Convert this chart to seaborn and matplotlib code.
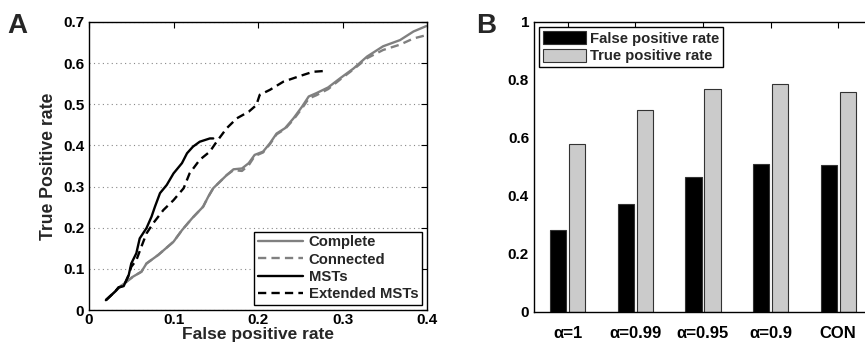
import matplotlib
matplotlib.use("Agg")
import matplotlib.pyplot as plt
import seaborn as sns
import pandas as pd
import numpy as np

# ---- Panel A: ROC-like curves ----
complete_x = [0.020, 0.037, 0.052, 0.062, 0.068, 0.082, 0.100, 0.110, 0.122, 0.135,
              0.141, 0.147, 0.155, 0.163, 0.171, 0.181, 0.189, 0.196, 0.206, 0.214,
              0.222, 0.232, 0.242, 0.252, 0.260, 0.269, 0.283, 0.297, 0.313, 0.329,
              0.348, 0.368, 0.384, 0.399]
complete_y = [0.024, 0.057, 0.081, 0.093, 0.113, 0.134, 0.166, 0.194, 0.223, 0.251,
              0.275, 0.296, 0.312, 0.328, 0.342, 0.344, 0.357, 0.377, 0.385, 0.405,
              0.429, 0.442, 0.466, 0.494, 0.519, 0.527, 0.541, 0.563, 0.587, 0.616,
              0.641, 0.656, 0.677, 0.690]

connected_x = [0.020, 0.037, 0.052, 0.062, 0.068, 0.082, 0.100, 0.110, 0.122, 0.135,
               0.141, 0.147, 0.155, 0.163, 0.171, 0.181, 0.189, 0.196, 0.206, 0.214,
               0.222, 0.232, 0.242, 0.252, 0.260, 0.269, 0.283, 0.297, 0.313, 0.329,
               0.348, 0.368, 0.384, 0.399]
connected_y = [0.024, 0.057, 0.081, 0.093, 0.113, 0.134, 0.166, 0.194, 0.223, 0.251,
               0.275, 0.296, 0.312, 0.328, 0.340, 0.338, 0.352, 0.374, 0.383, 0.403,
               0.427, 0.440, 0.463, 0.490, 0.514, 0.522, 0.537, 0.560, 0.585, 0.612,
               0.632, 0.645, 0.660, 0.668]

mst_x = [0.020, 0.031, 0.035, 0.041, 0.047, 0.050, 0.056, 0.060, 0.068, 0.074,
         0.078, 0.084, 0.092, 0.100, 0.110, 0.116, 0.123, 0.131, 0.143, 0.147]
mst_y = [0.024, 0.045, 0.055, 0.058, 0.085, 0.113, 0.138, 0.174, 0.199, 0.227,
         0.251, 0.284, 0.304, 0.332, 0.357, 0.381, 0.397, 0.409, 0.417, 0.417]

ext_x = [0.020, 0.031, 0.035, 0.041, 0.047, 0.050, 0.056, 0.062, 0.068, 0.076,
         0.088, 0.100, 0.112, 0.119, 0.131, 0.143, 0.151, 0.163, 0.175, 0.189,
         0.198, 0.202, 0.214, 0.230, 0.250, 0.265, 0.279]
ext_y = [0.024, 0.045, 0.055, 0.058, 0.085, 0.105, 0.121, 0.154, 0.186, 0.211,
         0.243, 0.267, 0.296, 0.332, 0.365, 0.385, 0.409, 0.442, 0.466, 0.482,
         0.498, 0.523, 0.535, 0.555, 0.569, 0.579, 0.581]

# ---- Panel B: grouped bars ----
categories = ["\u03b1=1", "\u03b1=0.99", "\u03b1=0.95", "\u03b1=0.9", "CON"]
fpr_values = [0.283, 0.372, 0.464, 0.509, 0.507]
tpr_values = [0.580, 0.696, 0.770, 0.785, 0.760]
series_names = ["False positive rate", "True positive rate"]

sns.set_style("white")
plt.rcParams["font.family"] = ["Liberation Sans", "DejaVu Sans"]
plt.rcParams["font.weight"] = "bold"
plt.rcParams["font.size"] = 11

fig = plt.figure(figsize=(8.65, 3.47), dpi=100)
axA = fig.add_axes([0.1029, 0.1066, 0.3908, 0.830])
axB = fig.add_axes([0.6173, 0.1009, 0.3908, 0.8357])

gray = "#808080"
sns.lineplot(x=complete_x, y=complete_y, ax=axA, color=gray, lw=1.7,
             sort=False, estimator=None, label="Complete")
sns.lineplot(x=connected_x, y=connected_y, ax=axA, color=gray, lw=1.7,
             dashes=(3.5, 2.2), sort=False, estimator=None, label="Connected")
sns.lineplot(x=mst_x, y=mst_y, ax=axA, color="black", lw=1.7,
             sort=False, estimator=None, label="MSTs")
sns.lineplot(x=ext_x, y=ext_y, ax=axA, color="black", lw=1.7,
             dashes=(3.5, 2.2), sort=False, estimator=None, label="Extended MSTs")

axA.set_xlim(0, 0.4)
axA.set_ylim(0, 0.7)
axA.set_xticks([0, 0.1, 0.2, 0.3, 0.4])
axA.set_xticklabels(["0", "0.1", "0.2", "0.3", "0.4"])
axA.set_yticks([0, 0.1, 0.2, 0.3, 0.4, 0.5, 0.6, 0.7])
axA.set_yticklabels(["0", "0.1", "0.2", "0.3", "0.4", "0.5", "0.6", "0.7"])
axA.yaxis.grid(True, linestyle=(0, (1, 3)), color="#888888", lw=0.8)
axA.xaxis.grid(False)
axA.set_xlabel("False positive rate", fontsize=12.5, fontweight="bold", labelpad=0)
axA.set_ylabel("True Positive rate", fontsize=12.7, fontweight="bold", labelpad=4)
legA = axA.legend(loc="lower right", fontsize=10.7, frameon=True, fancybox=False,
                  framealpha=1, edgecolor="black", handlelength=3.0,
                  labelspacing=0.22, borderaxespad=0.35, borderpad=0.25,
                  handletextpad=0.4)
legA.get_frame().set_linewidth(1.0)
for t in legA.get_texts():
    t.set_fontweight("bold")

# bars
bar_df = pd.DataFrame({
    "category": categories * 2,
    "series": [series_names[0]] * 5 + [series_names[1]] * 5,
    "value": fpr_values + tpr_values,
})
sns.barplot(data=bar_df, x="category", y="value", hue="series", ax=axB,
            palette={series_names[0]: "black", series_names[1]: "#cbcbcb"},
            width=0.56, gap=0.14, edgecolor="#333333", linewidth=0.8,
            saturation=1)
axB.set_xlim(-0.5, 4.5)
axB.set_ylim(0, 1)
axB.set_yticks([0, 0.2, 0.4, 0.6, 0.8, 1])
axB.set_yticklabels(["0", "0.2", "0.4", "0.6", "0.8", "1"])
axB.set_xlabel("")
axB.set_ylabel("")
legB = axB.legend(loc="upper left", fontsize=10.7, frameon=True, fancybox=False,
                  framealpha=1, edgecolor="black", handlelength=2.9,
                  handleheight=1.0, labelspacing=0.2, borderaxespad=0.35,
                  borderpad=0.25, handletextpad=0.3)
legB.get_frame().set_linewidth(1.0)
for t in legB.get_texts():
    t.set_fontweight("bold")

for ax in (axA, axB):
    for s in ax.spines.values():
        s.set_visible(True)
        s.set_color("black")
        s.set_linewidth(1.0)
    ax.tick_params(direction="in", length=4, width=0.8, top=True, right=True,
                   labelsize=11, colors="black")
    for lab in ax.get_xticklabels() + ax.get_yticklabels():
        lab.set_fontweight("bold")
axA.tick_params(axis="x", pad=2)
axB.tick_params(axis="x", pad=10, labelsize=12)

fig.text(0.009, 0.905, "A", fontsize=20, fontweight="bold")
fig.text(0.550, 0.905, "B", fontsize=20, fontweight="bold")

fig.savefig("out.png", dpi=100)
